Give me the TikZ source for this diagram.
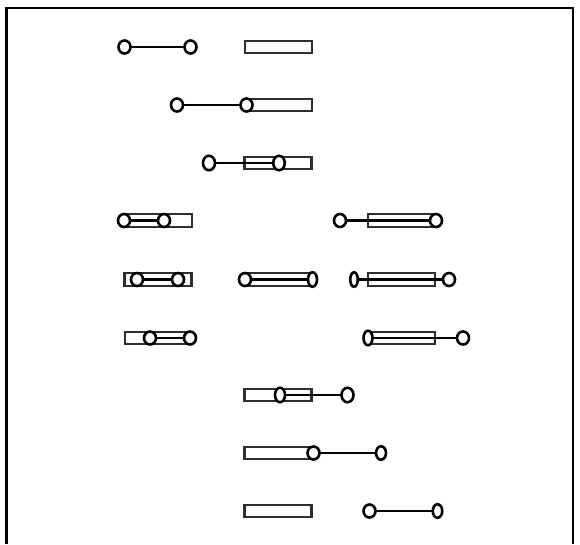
\documentclass[tikz,border=0pt]{standalone}
\usetikzlibrary{shapes.geometric}
\begin{document}
\begin{tikzpicture}[x=1pt,y=-1pt,
  bar/.style={draw=black!82,line width=2.3pt,fill=white,minimum width=67pt,minimum height=12.5pt,inner sep=0pt,outer sep=0pt},
  dot/.style={ellipse,draw=black,line width=2.6pt,fill=white,minimum width=12pt,minimum height=13pt,inner sep=0pt,outer sep=0pt},
  ndot/.style={dot,minimum width=9pt,minimum height=14.5pt},
  rod/.style={draw=black,line width=2.3pt}]
\useasboundingbox (0,0) rectangle (580,544);
\draw[line width=2.4pt] (6.5,544) -- (6.5,8) -- (573,8) -- (573,544);
% row 1
\node[bar] (r1) at (278.5,47) {};
\node[dot] (a1) at (124.5,47) {}; \node[dot] (b1) at (190.5,47) {};
\draw[rod] (a1) -- (b1);
% row 2
\node[bar] (r2) at (278.5,105) {};
\node[dot] (a2) at (177,105) {}; \node[dot] (b2) at (246.5,105) {};
\draw[rod] (a2) -- (b2);
% row 3
\node[bar] (r3) at (278,163) {};
\node[dot,minimum height=14.5pt] (a3) at (209,163) {}; \node[dot,minimum width=11.5pt,minimum height=14.5pt] (b3) at (279,163) {};
\draw[rod] (a3) -- (b3);
% row 4 left
\node[bar] (r4) at (158.5,220.5) {};
\node[dot] (a4) at (124,220.5) {}; \node[dot] (b4) at (164,220.5) {};
\draw[rod] (a4) -- (b4);
% row 4 right
\node[bar] (r5) at (401.5,220.5) {};
\node[dot] (a5) at (340,220.5) {}; \node[dot] (b5) at (436,220.5) {};
\draw[rod] (a5) -- (b5);
% row 5 left
\node[bar] (r6) at (158,279.5) {};
\node[dot] (a6) at (137,279.5) {}; \node[dot] (b6) at (178,279.5) {};
\draw[rod] (a6) -- (b6);
% row 5 middle
\node[bar] (r7) at (278.5,279.5) {};
\node[dot] (a7) at (245,279.5) {}; \node[ndot] (b7) at (312.5,279.5) {};
\draw[rod] (a7) -- (b7);
% row 5 right
\node[bar] (r8) at (401.5,279.5) {};
\node[ndot,minimum width=7.5pt] (a8) at (354,279.5) {}; \node[dot] (b8) at (449,279.5) {};
\draw[rod] (a8) -- (b8);
% row 6 left
\node[bar] (r9) at (158.5,338) {};
\node[dot] (a9) at (150,338) {}; \node[dot] (b9) at (190,338) {};
\draw[rod] (a9) -- (b9);
% row 6 right
\node[bar] (r10) at (401.5,338) {};
\node[ndot] (a10) at (368,338) {}; \node[dot] (b10) at (463,338) {};
\draw[rod] (a10) -- (b10);
% row 7
\node[bar] (r11) at (278,395) {};
\node[ndot,minimum width=10pt] (a11) at (280,395) {}; \node[dot,minimum height=14.5pt] (b11) at (347.5,395) {};
\draw[rod] (a11) -- (b11);
% row 8
\node[bar] (r12) at (278,453) {};
\node[dot] (a12) at (313.5,453) {}; \node[ndot,minimum width=10pt,minimum height=13.5pt] (b12) at (381,453) {};
\draw[rod] (a12) -- (b12);
% row 9
\node[bar] (r13) at (278,511) {};
\node[dot] (a13) at (369.5,511) {}; \node[ndot,minimum width=9.5pt,minimum height=13.5pt] (b13) at (437.5,511) {};
\draw[rod] (a13) -- (b13);
\end{tikzpicture}
\end{document}
